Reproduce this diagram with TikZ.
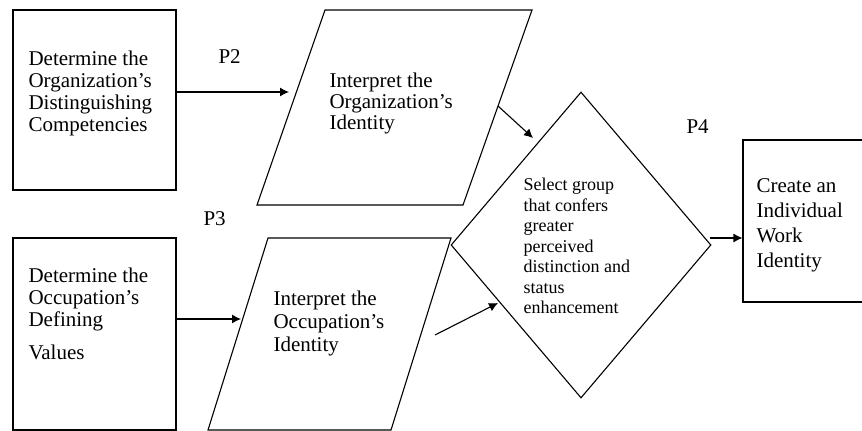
\documentclass[tikz,border=0pt]{standalone}
\usepackage{fontspec}
\setmainfont{Liberation Serif}
\usetikzlibrary{shapes.geometric,arrows.meta}
\begin{document}
\begin{tikzpicture}[x=1pt, y=-1pt, line width=1.1pt,
    box/.style={draw, rectangle, inner sep=0pt},
    txt/.style={anchor=north west, inner sep=0pt, align=left, font=\fontsize{21}{22}\selectfont},
    lbl/.style={anchor=base west, inner sep=0pt, font=\fontsize{21}{22}\selectfont},
    arr/.style={-{Latex[length=9pt, width=9pt]}}]
    \useasboundingbox (0,0) rectangle (862,431);
    % Draw the two determine boxes
    \node[box, minimum width=163pt, minimum height=180pt] (org) at (94.5,100) {};
    \node[box, minimum width=163pt, minimum height=192pt] (occ) at (94.5,334) {};
    % Draw the two interpret parallelograms
    \draw (325,10) -- (532,10) -- (463,205) -- (257,205) -- cycle;
    \draw (268,238) -- (451,238) -- (391,430) -- (208,430) -- cycle;
    % Draw selection diamond and outcome box
    \node[draw, diamond, minimum width=260pt, minimum height=306pt, inner sep=0pt] (sel) at (581,245) {};
    \node[box, minimum width=140pt, minimum height=162pt] (work) at (813,221) {};
    % Texts in the shapes
    \node[txt] (orgtxt) at (28,50.7) {Determine the\\Organization’s\\Distinguishing\\Competencies};
    \node[txt] (occtxt) at (28,267.7) {Determine the\\Occupation’s\\Defining\\[11pt]Values};
    \node[txt, font=\fontsize{21}{21}\selectfont] (iorgtxt) at (329,72.7) {Interpret the\\Organization’s\\Identity};
    \node[txt, font=\fontsize{21}{23}\selectfont] (iocctxt) at (273,290.7) {Interpret the\\Occupation’s\\Identity};
    \node[txt, font=\fontsize{18}{20.5}\selectfont] (seltxt) at (523,177.7) {Select group\\that confers\\greater\\perceived\\distinction and\\status\\enhancement};
    \node[txt, font=\fontsize{21}{25}\selectfont] (worktxt) at (756,177.8) {Create an\\Individual\\Work\\Identity};
    % Proposition labels
    \node[lbl] (ptwo) at (218,63) {P2};
    \node[lbl] (pthree) at (203,225) {P3};
    \node[lbl] (pfour) at (686,133) {P4};
    % Arrows
    \coordinate (iorgin) at (289,92);
    \coordinate (ioccin) at (241,319);
    \coordinate (iorgout) at (498,106);
    \coordinate (ioccout) at (435,335);
    \coordinate (selinone) at (533,138);
    \coordinate (selintwo) at (498,303);
    \coordinate (selout) at (710,238);
    \draw[arr] (org.east |- iorgin) -- (iorgin);
    \draw[arr] (occ.east |- ioccin) -- (ioccin);
    \draw[arr] (iorgout) -- (selinone);
    \draw[arr] (ioccout) -- (selintwo);
    \draw[arr] (selout) -- (selout -| work.west);
\end{tikzpicture}
\end{document}
